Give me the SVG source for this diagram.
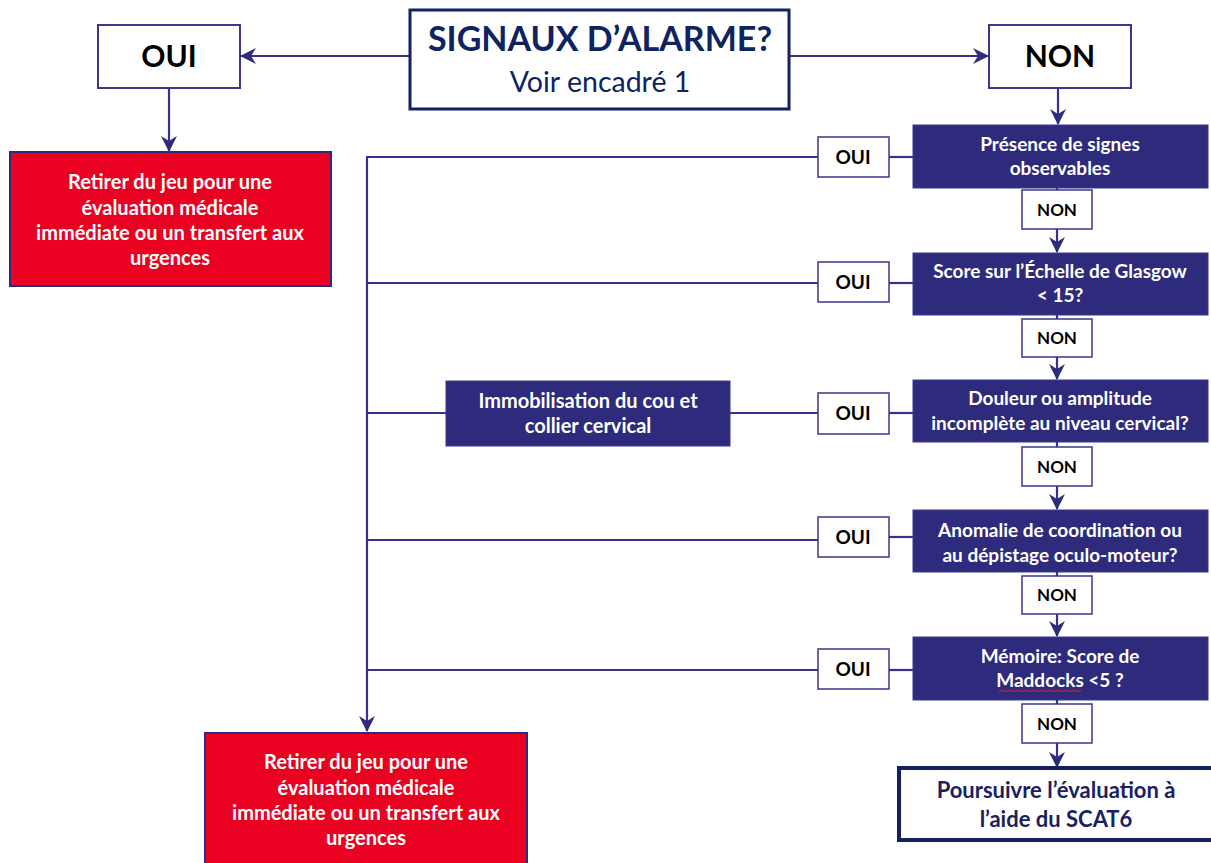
<svg xmlns="http://www.w3.org/2000/svg" width="1211" height="863" viewBox="0 0 1211 863">
<style>
text{font-family:Lato,"Open Sans","Liberation Sans",sans-serif;text-anchor:middle;font-weight:700}
.conn{stroke:#35318c;stroke-width:2.2;fill:none}
.navy{fill:#2e2b7c;stroke:#3a378e;stroke-width:1}
.red{fill:#ea0020;stroke:#2e2b7c;stroke-width:2}
.lbl{fill:#fff;stroke:#3a378e;stroke-width:1.5}
.wt{fill:#fff;font-size:19px}
.rt{fill:#fff;font-size:20px}
.sl{fill:#000;font-size:19px}
.sn{fill:#000;font-size:17px}
</style>
<defs>
<marker id="ah" viewBox="0 0 16 16" refX="15" refY="8" markerWidth="16" markerHeight="16" markerUnits="userSpaceOnUse" orient="auto">
<path d="M0,0 L16,8 L0,16 L5,8 z" fill="#2e2b7c"/>
</marker>
</defs>
<rect width="1211" height="863" fill="#fff"/>

<g id="connectors">
<line class="conn" x1="410" y1="56" x2="241" y2="56" marker-end="url(#ah)"/>
<line class="conn" x1="789" y1="56" x2="988" y2="56" marker-end="url(#ah)"/>
<line class="conn" x1="169" y1="88" x2="169" y2="151" marker-end="url(#ah)"/>
<line class="conn" x1="1058" y1="88" x2="1058" y2="124" marker-end="url(#ah)"/>
<line class="conn" x1="1057" y1="188" x2="1057" y2="190"/>
<line class="conn" x1="1057" y1="229" x2="1057" y2="252" marker-end="url(#ah)"/>
<line class="conn" x1="1057" y1="315" x2="1057" y2="319"/>
<line class="conn" x1="1057" y1="357" x2="1057" y2="379" marker-end="url(#ah)"/>
<line class="conn" x1="1057" y1="442" x2="1057" y2="447"/>
<line class="conn" x1="1057" y1="486" x2="1057" y2="509" marker-end="url(#ah)"/>
<line class="conn" x1="1057" y1="572" x2="1057" y2="576"/>
<line class="conn" x1="1057" y1="614" x2="1057" y2="636" marker-end="url(#ah)"/>
<line class="conn" x1="1057" y1="700" x2="1057" y2="704"/>
<line class="conn" x1="1057" y1="743" x2="1057" y2="767" marker-end="url(#ah)"/>
<line class="conn" x1="367" y1="157" x2="367" y2="731" marker-end="url(#ah)"/>
<line class="conn" x1="366" y1="157" x2="818" y2="157"/>
<line class="conn" x1="889" y1="157" x2="913" y2="157"/>
<line class="conn" x1="366" y1="283" x2="818" y2="283"/>
<line class="conn" x1="889" y1="283" x2="913" y2="283"/>
<line class="conn" x1="366" y1="413" x2="446" y2="413"/>
<line class="conn" x1="730" y1="413" x2="818" y2="413"/>
<line class="conn" x1="889" y1="413" x2="913" y2="413"/>
<line class="conn" x1="366" y1="540" x2="818" y2="540"/>
<line class="conn" x1="889" y1="537" x2="913" y2="537"/>
<line class="conn" x1="366" y1="670" x2="818" y2="670"/>
<line class="conn" x1="889" y1="670" x2="913" y2="670"/>
</g>

<g id="signaux">
<rect x="410" y="10" width="379" height="99" fill="#fff" stroke="#14215e" stroke-width="3"/>
<text x="600" y="51" font-size="34" fill="#0e2360">SIGNAUX D’ALARME?</text>
<text x="600" y="92" font-size="28.5" fill="#0e2360" style="font-weight:400">Voir encadré 1</text>
</g>

<g id="oui-top">
<rect x="98" y="25" width="142" height="63" fill="#fff" stroke="#3a378e" stroke-width="2"/>
<text x="169" y="67" font-size="30" fill="#000">OUI</text>
</g>

<g id="non-top">
<rect x="989" y="25" width="142" height="63" fill="#fff" stroke="#3a378e" stroke-width="2"/>
<text x="1060" y="67" font-size="30" fill="#000">NON</text>
</g>

<g id="retirer-1">
<rect class="red" x="10" y="152" width="321" height="134"/>
<text class="rt" x="170" y="189">Retirer du jeu pour une</text>
<text class="rt" x="170" y="215">évaluation médicale</text>
<text class="rt" x="170" y="240">immédiate ou un transfert aux</text>
<text class="rt" x="170" y="265">urgences</text>
</g>

<g id="q1">
<rect class="navy" x="913" y="125" width="295" height="63"/>
<text class="wt" x="1060" y="151">Présence de signes</text>
<text class="wt" x="1060" y="175">observables</text>
</g>
<g id="oui1"><rect class="lbl" x="818" y="137" width="71" height="40"/><text class="sl" x="853" y="164">OUI</text></g>
<g id="non1"><rect class="lbl" x="1022" y="190" width="70" height="39"/><text class="sn" x="1057" y="216">NON</text></g>

<g id="q2">
<rect class="navy" x="913" y="253" width="295" height="62"/>
<text class="wt" x="1060" y="278">Score sur l’Échelle de Glasgow</text>
<text class="wt" x="1060" y="302">&lt; 15?</text>
</g>
<g id="oui2"><rect class="lbl" x="818" y="262" width="71" height="40"/><text class="sl" x="853" y="289">OUI</text></g>
<g id="non2"><rect class="lbl" x="1022" y="319" width="70" height="38"/><text class="sn" x="1057" y="344">NON</text></g>

<g id="immobilisation">
<rect class="navy" x="446" y="381" width="284" height="65"/>
<text class="wt" x="588" y="408" style="font-size:20px">Immobilisation du cou et</text>
<text class="wt" x="588" y="433" style="font-size:20px">collier cervical</text>
</g>

<g id="q3">
<rect class="navy" x="913" y="380" width="295" height="62"/>
<text class="wt" x="1060" y="405">Douleur ou amplitude</text>
<text class="wt" x="1060" y="430">incomplète au niveau cervical?</text>
</g>
<g id="oui3"><rect class="lbl" x="818" y="393" width="71" height="41"/><text class="sl" x="853" y="420">OUI</text></g>
<g id="non3"><rect class="lbl" x="1022" y="447" width="70" height="39"/><text class="sn" x="1057" y="473">NON</text></g>

<g id="q4">
<rect class="navy" x="913" y="510" width="295" height="62"/>
<text class="wt" x="1060" y="537">Anomalie de coordination ou</text>
<text class="wt" x="1060" y="562">au dépistage oculo-moteur?</text>
</g>
<g id="oui4"><rect class="lbl" x="818" y="517" width="71" height="40"/><text class="sl" x="853" y="544">OUI</text></g>
<g id="non4"><rect class="lbl" x="1022" y="576" width="70" height="38"/><text class="sn" x="1057" y="601">NON</text></g>

<g id="q5">
<rect class="navy" x="913" y="637" width="295" height="63"/>
<text class="wt" x="1060" y="663">Mémoire: Score de</text>
<text class="wt" x="1060" y="687">Maddocks &lt;5 ?</text>
<path d="M999,692 l2,-2 l2,2 l2,-2 l2,2 l2,-2 l2,2 l2,-2 l2,2 l2,-2 l2,2 l2,-2 l2,2 l2,-2 l2,2 l2,-2 l2,2 l2,-2 l2,2 l2,-2 l2,2 l2,-2 l2,2 l2,-2 l2,2 l2,-2 l2,2 l2,-2 l2,2 l2,-2 l2,2 l2,-2 l2,2 l2,-2 l2,2 l2,-2 l2,2 l2,-2 l2,2 l2,-2 l2,2 l2,-2" fill="none" stroke="#e0202a" stroke-width="1"/>
</g>
<g id="oui5"><rect class="lbl" x="818" y="649" width="71" height="40"/><text class="sl" x="853" y="676">OUI</text></g>
<g id="non5"><rect class="lbl" x="1022" y="704" width="70" height="39"/><text class="sn" x="1057" y="730">NON</text></g>

<g id="poursuivre">
<rect x="899" y="768" width="320" height="72" fill="#fff" stroke="#14215e" stroke-width="4"/>
<text x="1056" y="798" font-size="22" fill="#1a2160">Poursuivre l’évaluation à</text>
<text x="1056" y="827" font-size="22" fill="#1a2160">l’aide du SCAT6</text>
</g>

<g id="retirer-2">
<rect class="red" x="205" y="733" width="322" height="140"/>
<text class="rt" x="366" y="769">Retirer du jeu pour une</text>
<text class="rt" x="366" y="795">évaluation médicale</text>
<text class="rt" x="366" y="820">immédiate ou un transfert aux</text>
<text class="rt" x="366" y="845">urgences</text>
</g>
</svg>
